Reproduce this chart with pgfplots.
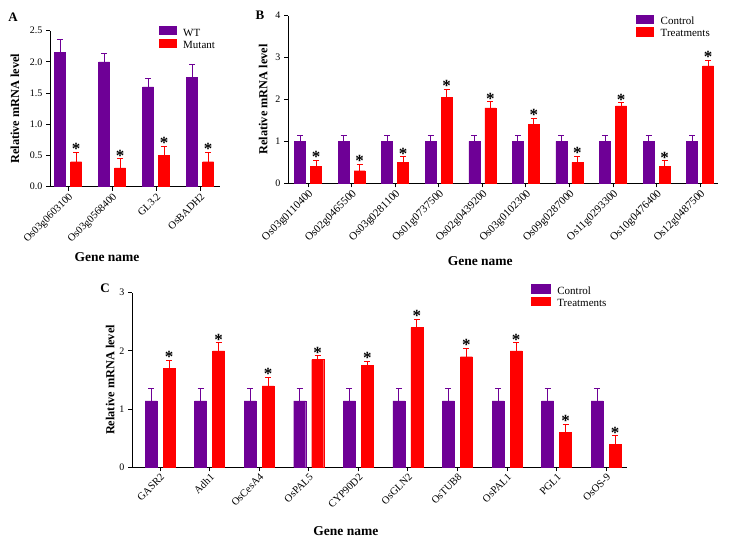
\documentclass[border=0pt]{standalone}
\usepackage{pgfplots}
\pgfplotsset{compat=1.18}
\usepackage{pgfplotstable}
\usepackage{fontspec}
\setmainfont{Liberation Serif}
\definecolor{cpurple}{RGB}{110,0,150}
\definecolor{cred}{RGB}{255,0,0}

\pgfplotstableread{
x wt wterr mut muterr
0 2.15 0.21 0.40 0.15
1 2.00 0.14 0.30 0.15
2 1.60 0.14 0.50 0.15
3 1.75 0.21 0.40 0.15
}\tabA

\pgfplotstableread{
x ctl ctlerr trt trterr
0 1.00 0.14 0.40 0.15
1 1.00 0.14 0.30 0.15
2 1.00 0.14 0.50 0.13
3 1.00 0.14 2.05 0.20
4 1.00 0.14 1.80 0.15
5 1.00 0.14 1.40 0.15
6 1.00 0.14 0.50 0.14
7 1.00 0.14 1.85 0.07
8 1.00 0.14 0.40 0.14
9 1.00 0.14 2.80 0.14
}\tabB

\pgfplotstableread{
x ctl ctlerr trt trterr
0 1.14 0.22 1.70 0.14
1 1.14 0.22 2.00 0.14
2 1.14 0.22 1.40 0.15
3 1.14 0.22 1.85 0.07
4 1.14 0.22 1.75 0.07
5 1.14 0.22 2.40 0.14
6 1.14 0.22 1.90 0.15
7 1.14 0.22 2.00 0.14
8 1.14 0.22 0.60 0.14
9 1.14 0.22 0.40 0.14
}\tabC

\pgfplotsset{
  panel/.style={
    scale only axis,
    ybar,
    ymin=0,
    axis lines=left,
    axis line style={-, line width=0.8pt},
    tick align=outside,
    major tick length=4pt,
    tick style={line width=0.8pt, black},
    xtick=data,
    x tick label style={rotate=45, anchor=north east, font=\fontsize{10.5}{12}\selectfont, inner sep=1pt},
    y tick label style={font=\fontsize{10}{12}\selectfont},
    /pgf/number format/assume math mode=true,
    xlabel={Gene name},
    ylabel={Relative mRNA level},
    xlabel style={font=\fontsize{13.5}{15}\selectfont\bfseries, anchor=north},
    ylabel style={font=\fontsize{12.3}{13}\selectfont\bfseries, anchor=center},
    legend style={draw=none, fill=none, inner sep=0pt, outer sep=0pt, anchor=north west,
      nodes={inner sep=1pt, font=\fontsize{11}{12}\selectfont}, cells={anchor=west}, column sep=6pt},
    error bars/y dir=plus,
    error bars/y explicit,
    clip=false,
  },
  star/.style={draw=none, fill=none, bar width=0.01pt, forget plot,
    nodes near coords={\textbf{*}},
    every node near coord/.append style={anchor=base, yshift=-2.5pt, inner sep=0pt, font=\fontsize{17}{17}\selectfont}},
}

\begin{document}
\begin{tikzpicture}
\path[use as bounding box] (0,0) rectangle (731pt,545pt);

% Panel A
\begin{axis}[panel,
  at={(50pt,358.3pt)}, anchor=south west,
  width=170pt, height=156pt,
  xmin=-0.41, xmax=3.45, ymax=2.5,
  ytick={0,0.5,1,1.5,2,2.5},
  yticklabel style={/pgf/number format/.cd, fixed, fixed zerofill, precision=1},
  xticklabels={Os03g0603100,Os03g0568400,GL3.2,OsBADH2},
  xlabel style={at={(axis description cs:0.335,0)}, yshift=-62pt},
  ylabel style={at={(axis description cs:-0.206,0.5)}},
  legend style={at={(axis description cs:0.64,1.03)}, row sep=0pt},
  legend image code/.code={\fill[#1] (0pt,-1pt) rectangle (17pt,7pt);},
  bar width=11pt,
]
\addplot[fill=cpurple, draw=cpurple, bar shift=-8pt,
  error bars/error bar style={cpurple, line width=0.8pt},
  error bars/error mark options={rotate=90, cpurple, mark size=3pt, line width=0.8pt}]
  table[x=x, y=wt, y error=wterr] {\tabA};
\addlegendentry{WT}
\addplot[fill=cred, draw=cred, bar shift=8pt,
  error bars/error bar style={cred, line width=0.8pt},
  error bars/error mark options={rotate=90, cred, mark size=3pt, line width=0.8pt}]
  table[x=x, y=mut, y error=muterr] {\tabA};
\addlegendentry{Mutant}
\addplot[star, bar shift=8pt] table[x=x, y expr=\thisrow{mut}+\thisrow{muterr}] {\tabA};
\end{axis}

% Panel B
\begin{axis}[panel,
  at={(288pt,361.7pt)}, anchor=south west,
  width=430pt, height=167.6pt,
  xmin=-0.46, xmax=9.41, ymax=4,
  ytick={0,1,2,3,4},
  x tick label style={font=\fontsize{11}{12}\selectfont},
  xticklabels={Os03g0110400,Os02g0465500,Os03g0281100,Os01g0737500,Os02g0439200,Os03g0102300,Os09g0287000,Os11g0293300,Os10g0476400,Os12g0487500},
  xlabel style={at={(axis description cs:0.447,0)}, yshift=-70pt},
  ylabel style={at={(axis description cs:-0.058,0.5)}},
  legend style={at={(axis description cs:0.81,1.005)}, row sep=0pt},
  legend image code/.code={\fill[#1] (0pt,-2pt) rectangle (17pt,6.5pt);},
  bar width=11pt,
]
\addplot[fill=cpurple, draw=cpurple, bar shift=-8pt,
  error bars/error bar style={cpurple, line width=0.8pt},
  error bars/error mark options={rotate=90, cpurple, mark size=3pt, line width=0.8pt}]
  table[x=x, y=ctl, y error=ctlerr] {\tabB};
\addlegendentry{Control}
\addplot[fill=cred, draw=cred, bar shift=8pt,
  error bars/error bar style={cred, line width=0.8pt},
  error bars/error mark options={rotate=90, cred, mark size=3pt, line width=0.8pt}]
  table[x=x, y=trt, y error=trterr] {\tabB};
\addlegendentry{Treatments}
\addplot[star, bar shift=8pt] table[x=x, y expr=\thisrow{trt}+\thisrow{trterr}] {\tabB};
\end{axis}

% Panel C
\begin{axis}[panel,
  at={(132pt,77.7pt)}, anchor=south west,
  width=495pt, height=174.6pt,
  xmin=-0.565, xmax=9.42, ymax=3,
  ytick={0,1,2,3},
  xticklabels={GASR2,Adh1,OsCesA4,OsPAL5,CYP90D2,OsGLN2,OsTUB8,OsPAL1,PGL1,OsOS-9},
  xlabel style={at={(axis description cs:0.432,0)}, yshift=-56pt},
  ylabel style={at={(axis description cs:-0.044,0.5)}},
  legend style={at={(axis description cs:0.806,1.048)}, row sep=0pt},
  legend image code/.code={\fill[#1] (0pt,-2pt) rectangle (19pt,6.5pt);},
  bar width=12pt,
]
\addplot[fill=cpurple, draw=cpurple, bar shift=-9pt,
  error bars/error bar style={cpurple, line width=0.8pt},
  error bars/error mark options={rotate=90, cpurple, mark size=3pt, line width=0.8pt}]
  table[x=x, y=ctl, y error=ctlerr] {\tabC};
\addlegendentry{Control}
\addplot[fill=cred, draw=cred, bar shift=9pt,
  error bars/error bar style={cred, line width=0.8pt},
  error bars/error mark options={rotate=90, cred, mark size=3pt, line width=0.8pt}]
  table[x=x, y=trt, y error=trterr] {\tabC};
\addlegendentry{Treatments}
\addplot[star, bar shift=9pt] table[x=x, y expr=\thisrow{trt}+\thisrow{trterr}] {\tabC};
\end{axis}

\node[font=\fontsize{13}{13}\selectfont\bfseries] at (13pt,528pt) {A};
\node[font=\fontsize{13}{13}\selectfont\bfseries] at (260pt,530pt) {B};
\node[font=\fontsize{13}{13}\selectfont\bfseries] at (105pt,257pt) {C};
\end{tikzpicture}
\end{document}
